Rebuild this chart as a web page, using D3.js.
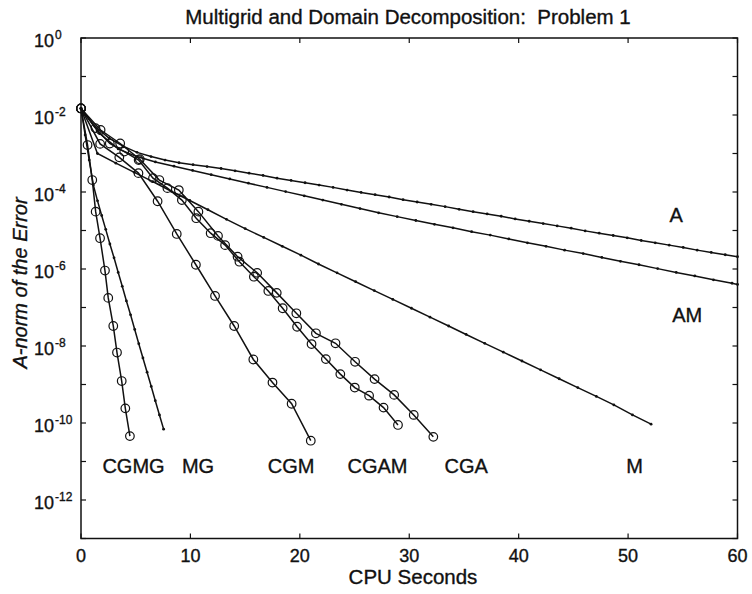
<!DOCTYPE html>
<html>
<head>
<meta charset="utf-8">
<script src="https://cdn.jsdelivr.net/npm/d3@7"></script>
<style>
  body { margin: 0; background: #fff; }
  svg text { font-family: 'Liberation Sans', Arial, Helvetica, sans-serif; fill: #111;
             stroke: #111; stroke-width: 0.35px; white-space: pre; }
</style>
</head>
<body>
<svg id="chart" width="752" height="594"></svg>
<script>
// Error curves. Times in CPU seconds, errors stored as log10 values.
const cgmgT = [0, 0.6, 1.03, 1.34, 1.74, 2.19, 2.49, 2.95, 3.29, 3.72, 4.05, 4.47];
const cgmgE = [-1.83, -2.78, -3.69, -4.51, -5.20, -6.04, -6.75, -7.48, -8.17, -8.91, -9.62, -10.34];

const mgT = [0, 0.38, 0.75, 1.13, 1.51, 1.89, 2.26, 2.64, 3.02, 3.40, 3.77, 4.15, 4.53, 4.91, 5.28, 5.66, 6.04, 6.42, 6.79, 7.17, 7.55];
const mgE = [-1.83, -2.52, -3.17, -3.82, -4.23, -4.61, -4.97, -5.35, -5.71, -6.09, -6.45, -6.83, -7.19, -7.57, -7.94, -8.31, -8.68, -9.05, -9.42, -9.79, -10.16];

const cgmT = [0, 1.75, 3.5, 5.25, 7.0, 8.75, 10.5, 12.25, 14.0, 15.75, 17.5, 19.25, 21.0];
const cgmE = [-1.83, -2.75, -3.10, -3.51, -4.24, -5.09, -5.89, -6.70, -7.48, -8.35, -8.95, -9.50, -10.46];

const cgamT = [0, 1.32, 2.63, 3.95, 5.27, 6.58, 7.9, 9.22, 10.53, 11.85, 13.17, 14.48, 15.8, 17.12, 18.43, 19.75, 21.07, 22.38, 23.7, 25.02, 26.33, 27.65, 28.97];
const cgamE = [-1.83, -2.34, -2.74, -2.95, -3.17, -3.64, -3.90, -4.21, -4.68, -5.07, -5.38, -5.81, -6.20, -6.57, -7.02, -7.50, -7.95, -8.34, -8.73, -9.08, -9.29, -9.60, -10.05];

const cgaT = [0, 1.79, 3.58, 5.37, 7.16, 8.94, 10.73, 12.52, 14.31, 16.1, 17.89, 19.68, 21.47, 23.26, 25.05, 26.83, 28.62, 30.41, 32.2];
const cgaE = [-1.83, -2.39, -2.74, -3.15, -3.69, -3.95, -4.51, -5.14, -5.68, -6.10, -6.62, -7.15, -7.67, -7.93, -8.41, -8.86, -9.27, -9.79, -10.36];

const mT = [0, 1.5, 3.19, 4.87, 6.56, 8.25, 9.94, 11.6, 13.3, 15.0, 16.7, 18.4, 20.1, 21.7, 23.4, 25.1, 26.8, 28.5, 30.2, 31.9, 33.6, 35.2, 36.9, 38.6, 40.3, 42.0, 43.7, 45.4, 47.1, 48.7, 50.4, 52.1];
const mE = [-1.83, -3.0, -3.25, -3.49, -3.73, -3.98, -4.22, -4.46, -4.71, -4.95, -5.18, -5.41, -5.64, -5.87, -6.10, -6.33, -6.56, -6.79, -7.02, -7.25, -7.48, -7.70, -7.93, -8.16, -8.39, -8.62, -8.85, -9.08, -9.31, -9.53, -9.79, -10.03];

const amT = [0, 1.7, 3.4, 5.1, 6.8, 8.5, 10.2, 11.9, 13.6, 15.3, 17.0, 18.7, 20.4, 22.1, 23.8, 25.5, 27.2, 28.9, 30.6, 32.3, 34.0, 35.7, 37.4, 39.1, 40.8, 42.5, 44.2, 45.9, 47.6, 49.3, 51.0, 52.7, 54.4, 56.1, 57.8, 59.5, 60];
const amE = [-1.83, -2.48, -2.88, -3.08, -3.22, -3.33, -3.44, -3.55, -3.66, -3.77, -3.88, -3.99, -4.10, -4.21, -4.32, -4.43, -4.54, -4.64, -4.74, -4.84, -4.93, -5.03, -5.12, -5.22, -5.32, -5.41, -5.51, -5.60, -5.70, -5.80, -5.89, -5.99, -6.09, -6.18, -6.28, -6.37, -6.40];

const aT = [0, 1.28, 2.56, 3.84, 5.12, 6.4, 7.68, 8.96, 10.24, 11.52, 12.8, 14.08, 15.36, 16.64, 17.92, 19.2, 20.48, 21.76, 23.04, 24.32, 25.6, 26.88, 28.16, 29.44, 30.72, 32.0, 33.28, 34.56, 35.84, 37.12, 38.4, 39.68, 40.96, 42.24, 43.52, 44.8, 46.08, 47.36, 48.64, 49.92, 51.2, 52.48, 53.76, 55.04, 56.32, 57.6, 58.88, 60];
const aE = [-1.83, -2.30, -2.60, -2.81, -2.97, -3.08, -3.17, -3.24, -3.29, -3.34, -3.39, -3.45, -3.51, -3.57, -3.64, -3.70, -3.76, -3.82, -3.88, -3.95, -4.01, -4.07, -4.13, -4.20, -4.26, -4.32, -4.38, -4.45, -4.51, -4.57, -4.63, -4.70, -4.76, -4.82, -4.88, -4.94, -5.01, -5.07, -5.13, -5.19, -5.26, -5.32, -5.38, -5.44, -5.51, -5.57, -5.63, -5.68];

// method names and where their labels sit (seconds, log10 error)
const seriesNames = ["A", "AM", "M", "CGA", "CGAM", "CGM", "MG", "CGMG"];
const labelT = [54.4, 55.4, 50.6, 35.2, 27.1, 19.2, 10.7, 4.8];
const labelE = [-4.6, -7.19, -11.1, -11.1, -11.1, -11.1, -11.1, -11.1];

const xTicks = [0, 10, 20, 30, 40, 50, 60];
const yLabelExps = [0, -2, -4, -6, -8, -10, -12];
const yTickExps = [0, -1, -2, -3, -4, -5, -6, -7, -8, -9, -10, -11, -12, -13];

const series = [
  {t: aT, e: aE, mark: "dot"},
  {t: amT, e: amE, mark: "dot"},
  {t: mT, e: mE, mark: "dot"},
  {t: cgaT, e: cgaE, mark: "circle"},
  {t: cgamT, e: cgamE, mark: "circle"},
  {t: cgmT, e: cgmE, mark: "circle"},
  {t: mgT, e: mgE, mark: "dot"},
  {t: cgmgT, e: cgmgE, mark: "circle"}
];

const svg = d3.select("#chart");
const pLeft = 81, pRight = 737.5, pTop = 38, pBottom = 538.5;

const x = d3.scaleLinear().domain([0, 60]).range([pLeft, pRight]);
const y = d3.scaleLog().domain([1e-13, 1]).range([pBottom, pTop]);

// title (two spaces after the colon, as in the original)
svg.append("text")
  .attr("x", 408).attr("y", 24)
  .attr("xml:space", "preserve")
  .attr("text-anchor", "middle")
  .style("font-size", "20.5px")
  .text("Multigrid and Domain Decomposition:  Problem 1");

// curves
const line = d3.line()
  .x(d => x(d[0]))
  .y(d => y(Math.pow(10, d[1])));

const plot = svg.append("g");
series.forEach(function(s){
  const pts = s.t.map((t, i) => [t, s.e[i]]);
  plot.append("path")
    .attr("d", line(pts))
    .attr("fill", "none")
    .attr("stroke", "#111")
    .attr("stroke-width", 1.5);
  if (s.mark == "circle") {
    plot.selectAll(null).data(pts).enter().append("circle")
      .attr("cx", d => x(d[0])).attr("cy", d => y(Math.pow(10, d[1])))
      .attr("r", 4.3)
      .attr("fill", "none")
      .attr("stroke", "#111")
      .attr("stroke-width", 1.2);
  } else {
    plot.selectAll(null).data(pts).enter().append("circle")
      .attr("cx", d => x(d[0])).attr("cy", d => y(Math.pow(10, d[1])))
      .attr("r", 1.4)
      .attr("fill", "#111");
  }
});

// frame
svg.append("rect")
  .attr("x", pLeft).attr("y", pTop)
  .attr("width", pRight - pLeft).attr("height", pBottom - pTop)
  .attr("fill", "none").attr("stroke", "#111").attr("stroke-width", 1.5);

// ticks, pointing inward on all four sides
const tl = 5;
const tickG = svg.append("g").attr("stroke", "#111").attr("stroke-width", 1.2);
yTickExps.forEach(function(p){
  const yy = y(Math.pow(10, p));
  tickG.append("line").attr("x1", pLeft).attr("x2", pLeft + tl).attr("y1", yy).attr("y2", yy);
  tickG.append("line").attr("x1", pRight).attr("x2", pRight - tl).attr("y1", yy).attr("y2", yy);
});
xTicks.forEach(function(v){
  const xx = x(v);
  tickG.append("line").attr("x1", xx).attr("x2", xx).attr("y1", pBottom).attr("y2", pBottom - tl);
  tickG.append("line").attr("x1", xx).attr("x2", xx).attr("y1", pTop).attr("y2", pTop + tl);
});

// tick labels
xTicks.forEach(function(v){
  svg.append("text")
    .attr("x", x(v)).attr("y", 561.5)
    .attr("text-anchor", "middle")
    .style("font-size", "18px")
    .text(v);
});
yLabelExps.forEach(function(p){
  const yy = y(Math.pow(10, p));
  svg.append("text")
    .attr("x", 54).attr("y", yy + 8.5)
    .attr("text-anchor", "end")
    .style("font-size", "18px")
    .text("10");
  svg.append("text")
    .attr("x", 55).attr("y", yy + 0.5)
    .attr("text-anchor", "start")
    .style("font-size", "12px")
    .text(p);
});

// axis labels
svg.append("text")
  .attr("x", 413).attr("y", 583.5)
  .attr("text-anchor", "middle")
  .style("font-size", "20.5px")
  .text("CPU Seconds");
svg.append("text")
  .attr("transform", "translate(27,283) rotate(-90)")
  .attr("text-anchor", "middle")
  .style("font-size", "20px")
  .style("font-style", "italic")
  .text("A-norm of the Error");

// curve names
seriesNames.forEach(function(name, i){
  svg.append("text")
    .attr("x", x(labelT[i])).attr("y", y(Math.pow(10, labelE[i])))
    .attr("text-anchor", "middle")
    .attr("dy", "0.36em")
    .style("font-size", "20px")
    .text(name);
});
</script>
</body>
</html>
